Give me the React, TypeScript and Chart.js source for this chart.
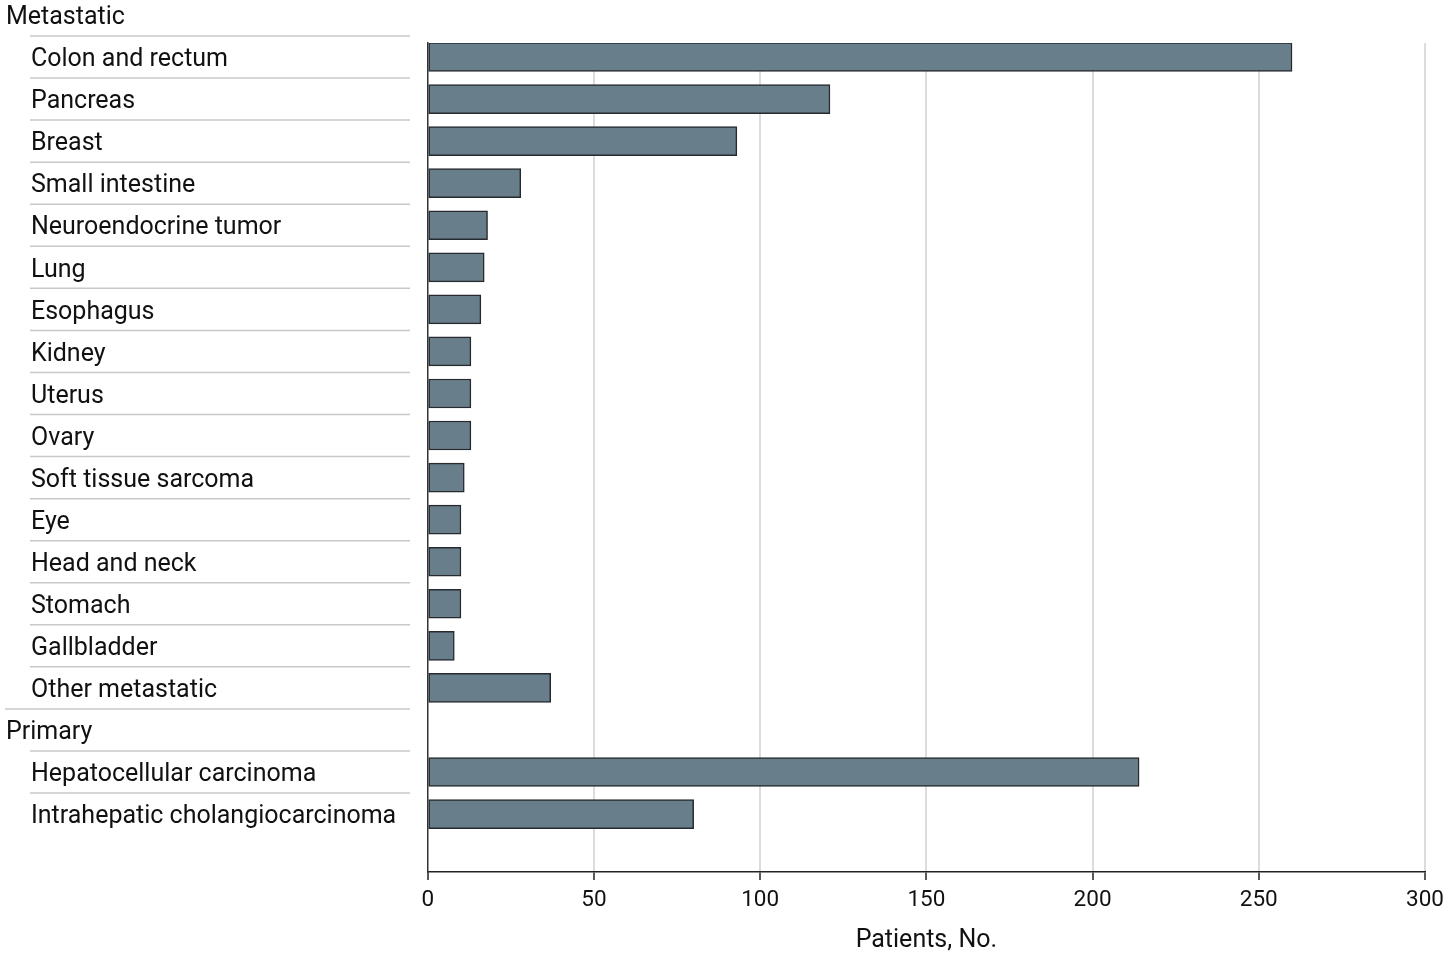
import React, { useEffect, useRef } from "react";
import { Chart, registerables } from "chart.js";

Chart.register(...registerables);

const categories: string[] = [
  "Metastatic",
  "Colon and rectum",
  "Pancreas",
  "Breast",
  "Small intestine",
  "Neuroendocrine tumor",
  "Lung",
  "Esophagus",
  "Kidney",
  "Uterus",
  "Ovary",
  "Soft tissue sarcoma",
  "Eye",
  "Head and neck",
  "Stomach",
  "Gallbladder",
  "Other metastatic",
  "Primary",
  "Hepatocellular carcinoma",
  "Intrahepatic cholangiocarcinoma",
];

const isGroupHeader: boolean[] = [
  true, false, false, false, false, false, false, false, false, false,
  false, false, false, false, false, false, false, true, false, false,
];

const patients: (number | null)[] = [
  null, 260, 121, 93, 28, 18, 17, 16, 13, 13,
  13, 11, 10, 10, 10, 8, 37, null, 214, 80,
];

const xTicks: number[] = [0, 50, 100, 150, 200, 250, 300];
const xTitle = "Patients, No.";

const FONT = "Roboto, 'Noto Sans', sans-serif";

export default function App() {
  const canvasRef = useRef<HTMLCanvasElement | null>(null);

  useEffect(() => {
    document.body.style.margin = "0";
    const canvas = canvasRef.current;
    if (!canvas) return;

    const labelPlugin = {
      id: "groupLabels",
      afterDraw(chart: any) {
        const ctx = chart.ctx;
        const y = chart.scales.y;
        ctx.save();
        // separators
        ctx.strokeStyle = "#c8c8c8";
        ctx.lineWidth = 1.5;
        for (let i = 1; i < categories.length; i++) {
          const yy = (y.getPixelForValue(i - 1) + y.getPixelForValue(i)) / 2;
          const x0 = isGroupHeader[i] ? 5 : 30;
          ctx.beginPath();
          ctx.moveTo(x0, yy);
          ctx.lineTo(410, yy);
          ctx.stroke();
        }
        // labels
        ctx.fillStyle = "#111";
        ctx.font = `25px ${FONT}`;
        ctx.textBaseline = "middle";
        ctx.textAlign = "left";
        for (let i = 0; i < categories.length; i++) {
          const yy = y.getPixelForValue(i);
          const x0 = isGroupHeader[i] ? 6 : 31;
          ctx.fillText(categories[i], x0, yy + 3);
        }
        ctx.restore();
      },
    };

    const chart = new Chart(canvas, {
      type: "bar",
      data: {
        datasets: [
          {
            data: patients.map((v, i) => ({ x: v, y: i })) as any,
            backgroundColor: "#687f8b",
            borderColor: "#262a2e",
            borderWidth: 1.5,
            borderSkipped: false,
            barThickness: 29,
          },
        ],
      },
      options: {
        indexAxis: "y",
        animation: false,
        responsive: false,
        devicePixelRatio: 1,
        layout: { padding: { top: 43, right: 24, left: 0, bottom: 0 } },
        plugins: {
          legend: { display: false },
          tooltip: { enabled: false },
        },
        scales: {
          x: {
            type: "linear",
            min: 0,
            max: 300,
            afterBuildTicks: (scale: any) => {
              scale.ticks = xTicks.map((v) => ({ value: v }));
            },
            afterFit: (scale: any) => {
              scale.height = 85;
              scale.paddingLeft = 0;
              scale.paddingRight = 0;
            },
            grid: {
              color: (c: any) => (c.tick && c.tick.value === 0 ? "rgba(0,0,0,0)" : "#dcdcdc"),
              lineWidth: 2,
              tickColor: "#222",
              tickWidth: 1.5,
              tickLength: 8,
            },
            border: { display: true, color: "#222", width: 1.5 },
            ticks: {
              color: "#111",
              font: { family: FONT, size: 22.5 },
              padding: 7,
              maxRotation: 0,
            },
            title: {
              display: true,
              text: xTitle,
              color: "#111",
              font: { family: FONT, size: 25 },
              padding: { top: 0, bottom: 1 },
            },
          },
          y: {
            type: "linear",
            reverse: true,
            offset: false,
            min: 0.667,
            max: 20.377,
            afterFit: (scale: any) => {
              scale.width = 427.7;
              scale.paddingTop = 0;
              scale.paddingBottom = 0;
            },
            grid: { display: false },
            border: { display: true, color: "#333", width: 1.5 },
            ticks: { display: false },
          },
        },
      },
      plugins: [labelPlugin],
    } as any);

    return () => chart.destroy();
  }, []);

  return (
    <div style={{ position: "absolute", left: 0, top: 0, width: 1449, height: 957, background: "#fff" }}>
      <canvas ref={canvasRef} width={1449} height={957} style={{ display: "block" }} />
    </div>
  );
}
